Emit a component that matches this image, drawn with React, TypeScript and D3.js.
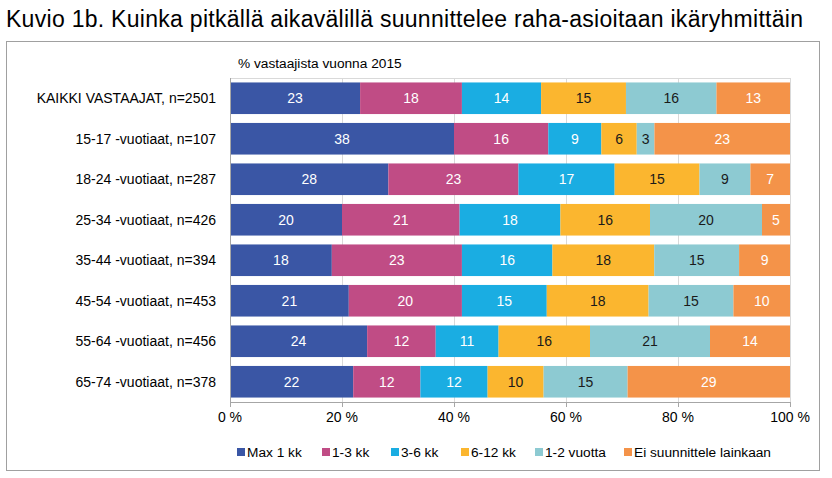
import React from "react";
import * as d3 from "d3";

const categories = [
  "KAIKKI VASTAAJAT, n=2501",
  "15-17 -vuotiaat, n=107",
  "18-24 -vuotiaat, n=287",
  "25-34 -vuotiaat, n=426",
  "35-44 -vuotiaat, n=394",
  "45-54 -vuotiaat, n=453",
  "55-64 -vuotiaat, n=456",
  "65-74 -vuotiaat, n=378",
];

const seriesNames = ["Max 1 kk", "1-3 kk", "3-6 kk", "6-12 kk", "1-2 vuotta", "Ei suunnittele lainkaan"];

const max1kk = [23, 38, 28, 20, 18, 21, 24, 22];
const kk1to3 = [18, 16, 23, 21, 23, 20, 12, 12];
const kk3to6 = [14, 9, 17, 18, 16, 15, 11, 12];
const kk6to12 = [15, 6, 15, 16, 18, 18, 16, 10];
const years1to2 = [16, 3, 9, 20, 15, 15, 21, 15];
const noPlanning = [13, 23, 7, 5, 9, 10, 14, 29];

const tickValues = [0, 0.2, 0.4, 0.6, 0.8, 1];
const tickLabels = ["0 %", "20 %", "40 %", "60 %", "80 %", "100 %"];

const titleText = "Kuvio 1b. Kuinka pitkällä aikavälillä suunnittelee raha-asioitaan ikäryhmittäin";
const subtitleText = "% vastaajista vuonna 2015";

const colors = ["#3A56A5", "#C04C85", "#1AADE2", "#FBB62F", "#8DCAD2", "#F49349"];
const labelColors = ["#FFFFFF", "#FFFFFF", "#FFFFFF", "#1A1A1A", "#1A1A1A", "#FFFFFF"];

const W = 832;
const H = 478;
const FONT = "'Liberation Sans', Arial, sans-serif";

export default function App() {
  const seriesValues = [max1kk, kk1to3, kk3to6, kk6to12, years1to2, noPlanning];
  const rows = categories.map((c, i) => {
    const r: Record<string, any> = { category: c };
    seriesNames.forEach((s, j) => (r[s] = seriesValues[j][i]));
    return r;
  });

  const stack = d3.stack<any>().keys(seriesNames).offset(d3.stackOffsetExpand);
  const stacked = stack(rows);

  const x = d3.scaleLinear().domain([0, 1]).range([230, 790]);
  const y = d3
    .scaleBand<string>()
    .domain(categories)
    .range([78, 402])
    .paddingInner(0.22)
    .paddingOuter(0.11);

  const legendX = [237, 322, 391, 461, 535, 624];

  return (
    <svg
      width={W}
      height={H}
      style={{ position: "absolute", left: 0, top: 0, background: "#fff" }}
      fontFamily={FONT}
    >
      <rect x={0} y={0} width={W} height={H} fill="#fff" />
      <text x={6} y={27} fontSize={23} fill="#000" textLength={797} lengthAdjust="spacing">
        {titleText}
      </text>
      <rect x={6.5} y={41.5} width={813} height={429} fill="none" stroke="#A0A0A0" strokeWidth={1} />

      <text x={238} y={68} fontSize={13.7} fill="#000">
        {subtitleText}
      </text>

      {/* gridlines */}
      {tickValues.map((t) => (
        <line
          key={"g" + t}
          x1={Math.round(x(t)) + 0.5}
          x2={Math.round(x(t)) + 0.5}
          y1={78}
          y2={402}
          stroke="#D9D9D9"
        />
      ))}
      <line x1={230} x2={790} y1={78.5} y2={78.5} stroke="#D9D9D9" />

      {/* bars */}
      {stacked.map((s, si) =>
        s.map((d, di) => {
          const x0 = x(d[0]);
          const x1 = x(d[1]);
          const yy = y(categories[di])!;
          return (
            <g key={si + "-" + di}>
              <rect x={x0} y={yy} width={x1 - x0} height={y.bandwidth()} fill={colors[si]} />
              <text
                x={(x0 + x1) / 2}
                y={yy + y.bandwidth() / 2 + 5}
                textAnchor="middle"
                fontSize={14}
                fill={labelColors[si]}
              >
                {seriesValues[si][di]}
              </text>
            </g>
          );
        })
      )}

      {/* axes */}
      <line x1={230} x2={790} y1={402.5} y2={402.5} stroke="#A6A6A6" />
      <line x1={230.5} x2={230.5} y1={78} y2={402} stroke="#A6A6A6" />
      {tickValues.map((t, i) => (
        <g key={"t" + t}>
          <line
            x1={Math.round(x(t)) + 0.5}
            x2={Math.round(x(t)) + 0.5}
            y1={402}
            y2={407}
            stroke="#A6A6A6"
          />
          <text x={x(t)} y={422} textAnchor="middle" fontSize={14} fill="#000">
            {tickLabels[i]}
          </text>
        </g>
      ))}

      {/* category labels */}
      {categories.map((c) => (
        <text
          key={c}
          x={216}
          y={y(c)! + y.bandwidth() / 2 + 5}
          textAnchor="end"
          fontSize={14}
          fill="#000"
        >
          {c}
        </text>
      ))}

      {/* legend */}
      {seriesNames.map((s, i) => (
        <g key={"l" + s}>
          <rect x={legendX[i]} y={448} width={8} height={8} fill={colors[i]} />
          <text x={legendX[i] + 10} y={457} fontSize={13.7} fill="#000">
            {s}
          </text>
        </g>
      ))}
    </svg>
  );
}
